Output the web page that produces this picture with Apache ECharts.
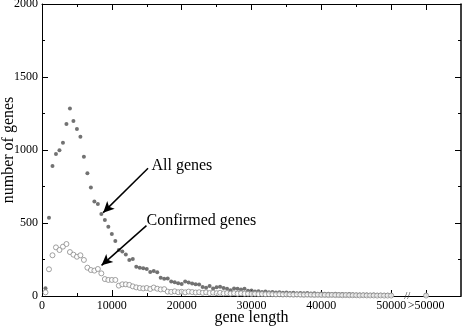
<!DOCTYPE html>
<html>
<head>
<meta charset="utf-8">
<script src="https://cdn.jsdelivr.net/npm/echarts@6/dist/echarts.min.js"></script>
<style>
  html, body { margin: 0; padding: 0; background: #fff; }
  #chart { width: 463px; height: 328px; }
</style>
</head>
<body>
<div id="chart"></div>
<script>
// bin centres: 500, 1000, ... 50000, plus the ">50000" bin drawn at 55000
var binStep = 500;
var overflowX = 55000;

var allGenes = [
  53, 536, 890, 973, 998, 1050, 1178, 1285, 1199, 1144,
  1091, 954, 840, 744, 648, 630, 562, 521, 475, 425,
  377, 315, 304, 285, 247, 253, 201, 194, 190, 185,
  165, 171, 162, 125, 118, 120, 100, 95, 88, 82,
  100, 92, 85, 80, 78, 62, 56, 68, 52, 60,
  64, 55, 50, 40, 52, 50, 45, 50, 36, 38,
  30, 33, 28, 30, 25, 27, 24, 26, 22, 24,
  21, 23, 19, 21, 18, 20, 17, 19, 16, 17,
  15, 16, 14, 15, 13, 14, 12, 13, 12, 11,
  11, 10, 11, 9, 10, 9, 9, 8, 8, 7
];
var allGenesOverflow = 6;

var confirmedGenes = [
  25, 183, 279, 333, 315, 338, 356, 301, 283, 269,
  279, 247, 194, 178, 174, 185, 155, 116, 110, 110,
  110, 71, 80, 80, 76, 66, 59, 55, 52, 55,
  48, 58, 50, 45, 47, 30, 28, 32, 26, 29,
  25, 30, 27, 24, 26, 22, 25, 20, 23, 19,
  22, 18, 20, 17, 19, 16, 18, 15, 16, 14,
  15, 13, 14, 12, 13, 12, 11, 12, 10, 11,
  10, 9, 10, 9, 8, 9, 8, 7, 8, 7,
  7, 6, 7, 6, 6, 5, 6, 5, 5, 5,
  4, 5, 4, 4, 4, 3, 4, 3, 3, 3
];
var confirmedOverflow = 3;

var xTicks = [0, 10000, 20000, 30000, 40000, 50000, 55000];
var yTicks = [0, 500, 1000, 1500, 2000];

// annotation anchors in data units
var allArrow = [[15186, 875], [8757, 571]];
var confirmedArrow = [[14957, 482], [8529, 210]];
var allText = [15600, 890];
var confirmedText = [14900, 515];
var breakMark = [52300, 0];

function toPoints(values, overflow) {
  var pts = values.map(function (v, i) { return [(i + 1) * binStep, v]; });
  pts.push([overflowX, overflow]);
  return pts;
}

var serif = '"Liberation Serif", "DejaVu Serif", serif';

var myChart = echarts.init(document.getElementById('chart'));

var xLabel = function (v) { return v === overflowX ? '>50000' : String(v); };
var yLabel = function (v) { return String(v); };

myChart.setOption({
  animation: false,
  grid: { left: 42, right: 2, top: 4, bottom: 32, containLabel: false, outerBoundsMode: 'none' },
  xAxis: [
    {
      type: 'value', position: 'bottom', min: 0, max: 60000, interval: 10000,
      name: 'gene length', nameLocation: 'middle', nameGap: 14, nameMoveOverlap: false,
      nameTextStyle: { fontFamily: serif, fontSize: 16, color: '#000' },
      axisLine: { onZero: false, lineStyle: { color: '#000', width: 1 } },
      axisTick: { inside: true, length: 6, customValues: xTicks, lineStyle: { color: '#000' } },
      minorTick: { show: true, splitNumber: 2, length: 3, lineStyle: { color: '#000' } },
      axisLabel: { customValues: xTicks, formatter: xLabel, hideOverlap: false, margin: 4, fontFamily: serif, fontSize: 12, color: '#000' },
      splitLine: { show: false }
    },
    {
      type: 'value', position: 'top', min: 0, max: 60000, interval: 10000,
      axisLine: { onZero: false, lineStyle: { color: '#000', width: 1 } },
      axisTick: { inside: true, length: 6, customValues: xTicks, lineStyle: { color: '#000' } },
      minorTick: { show: true, splitNumber: 2, length: 3, lineStyle: { color: '#000' } },
      axisLabel: { show: false },
      splitLine: { show: false }
    }
  ],
  yAxis: [
    {
      type: 'value', position: 'left', min: 0, max: 2000, interval: 500,
      name: 'number of genes', nameLocation: 'middle', nameGap: 25, nameMoveOverlap: false,
      nameTextStyle: { fontFamily: serif, fontSize: 16, color: '#000' },
      axisLine: { show: true, onZero: false, lineStyle: { color: '#000', width: 1 } },
      axisTick: { show: true, inside: true, length: 6, lineStyle: { color: '#000' } },
      minorTick: { show: true, splitNumber: 2, length: 3, lineStyle: { color: '#000' } },
      axisLabel: { formatter: yLabel, margin: 4, fontFamily: serif, fontSize: 12, color: '#000' },
      splitLine: { show: false }
    },
    {
      type: 'value', position: 'right', min: 0, max: 2000, interval: 500,
      axisLine: { show: true, onZero: false, lineStyle: { color: '#000', width: 1.5 } },
      axisTick: { show: true, inside: true, length: 6, lineStyle: { color: '#000' } },
      minorTick: { show: true, splitNumber: 2, length: 3, lineStyle: { color: '#000' } },
      axisLabel: { show: false },
      splitLine: { show: false }
    }
  ],
  series: [
    {
      name: 'All genes',
      type: 'scatter',
      symbol: 'circle',
      symbolSize: 4,
      itemStyle: { color: '#4f4f4f' },
      data: toPoints(allGenes, allGenesOverflow),
      markLine: {
        silent: true,
        symbol: ['none', 'arrow'],
        symbolSize: [8, 11],
        label: { show: false },
        lineStyle: { color: '#000', width: 1.5, type: 'solid' },
        data: [
          [{ coord: allArrow[0] }, { coord: allArrow[1] }],
          [{ coord: confirmedArrow[0] }, { coord: confirmedArrow[1] }]
        ]
      },
      markPoint: {
        silent: true,
        symbol: 'circle',
        symbolSize: 1,
        itemStyle: { color: 'rgba(0,0,0,0)' },
        label: {
          show: true, position: 'right', distance: 0,
          fontFamily: serif, fontSize: 16, color: '#000',
          formatter: function (p) { return p.name; }
        },
        data: [
          { name: 'All genes', coord: allText },
          { name: 'Confirmed genes', coord: confirmedText },
          { name: '//', coord: breakMark, label: { position: 'inside', fontSize: 11, color: '#333' } }
        ]
      }
    },
    {
      name: 'Confirmed genes',
      type: 'scatter',
      symbol: 'circle',
      symbolSize: 5,
      itemStyle: { color: '#fff', borderColor: '#8a8a8a', borderWidth: 1 },
      data: toPoints(confirmedGenes, confirmedOverflow)
    }
  ]
});
</script>
</body>
</html>
